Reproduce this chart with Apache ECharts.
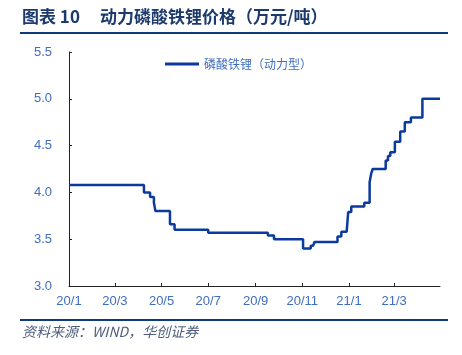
<!DOCTYPE html>
<html>
<head>
<meta charset="utf-8">
<script src="https://cdn.jsdelivr.net/npm/echarts@6/dist/echarts.min.js"></script>
<style>
html,body{margin:0;padding:0;background:#fff;}
#c{width:462px;height:355px;}
</style>
</head>
<body>
<div id="c"></div>
<script>
// change dates (price in effect from that date) and prices (万元/吨)
var changeDates = [
  '2020-01-01','2020-04-08','2020-04-16','2020-04-21','2020-04-23','2020-05-12','2020-05-18',
  '2020-07-01','2020-09-17','2020-09-25','2020-11-02','2020-11-12','2020-11-15','2020-11-17',
  '2020-12-17','2020-12-22','2020-12-29','2020-12-31','2021-01-04','2021-01-21','2021-01-28',
  '2021-01-30','2021-02-01','2021-02-18','2021-02-21','2021-02-24','2021-03-02','2021-03-09',
  '2021-03-15','2021-03-23','2021-04-07','2021-04-30'
];
var prices = [
  4.08, 4.00, 3.95, 3.89, 3.80, 3.66, 3.60,
  3.57, 3.54, 3.50, 3.40, 3.43, 3.45, 3.47,
  3.53, 3.58, 3.58, 3.79, 3.85, 3.89, 4.11,
  4.20, 4.25, 4.34, 4.39, 4.43, 4.54, 4.65,
  4.75, 4.80, 5.00, 5.00
];
var tickMonths = ['2020-01-01','2020-03-01','2020-05-01','2020-07-01','2020-09-01','2020-11-01','2021-01-01','2021-03-01'];
var yTicks = [3.0, 3.5, 4.0, 4.5, 5.0, 5.5];
var seriesName = '磷酸铁锂（动力型）';

function ts(s){ var p = s.split('-'); return new Date(+p[0], +p[1]-1, +p[2]).getTime(); }

var chart = echarts.init(document.getElementById('c'), null, {renderer:'canvas'});
var data = changeDates.map(function(d,i){ return [ts(d), prices[i]]; });
var blue = '#0A3A9C';
var labelBlue = '#3F6DC0';
var navy = '#1C3A6C';

chart.setOption({
  animation:false,
  backgroundColor:'#fff',
  graphic:[
    {type:'text', left:22, top:8, style:{text:'图表 10', font:'bold 17px "Noto Sans CJK SC"', fill:navy}},
    {type:'text', left:100, top:8, style:{text:'动力磷酸铁锂价格（万元/吨）', font:'bold 17px "Noto Sans CJK SC"', fill:navy}},
    {type:'rect', shape:{x:20, y:32, width:428, height:2}, style:{fill:'#0D3B7E'}},
    {type:'rect', shape:{x:20, y:319, width:428, height:2}, style:{fill:'#0D3B7E'}},
    {type:'text', left:22, top:325, style:{text:'资料来源：WIND，华创证券', font:'italic 14px "Noto Sans CJK SC"', fill:'#4E5E7E'}}
  ],
  legend:{
    data:[seriesName], left:160, top:53, itemWidth:34, itemHeight:3, itemGap:3,
    icon:'rect',
    textStyle:{fontFamily:'Noto Sans CJK SC', fontSize:12, color:labelBlue}
  },
  grid:{left:69, top:52, right:22, bottom:69, containLabel:false},
  xAxis:{
    type:'value',
    min:ts(changeDates[0]), max:ts(changeDates[changeDates.length-1]),
    axisLine:{lineStyle:{color:'#222', width:1}},
    axisTick:{inside:true, length:3, customValues:tickMonths.map(ts), lineStyle:{color:'#222'}},
    axisLabel:{
      customValues:tickMonths.map(ts), margin:9, showMaxLabel:true, showMinLabel:true, hideOverlap:false,
      fontFamily:'Liberation Sans', fontSize:13, color:labelBlue,
      formatter:function(v){ var d=new Date(v); return String(d.getFullYear()).slice(2)+'/'+(d.getMonth()+1); }
    },
    splitLine:{show:false}
  },
  yAxis:{
    type:'value', min:yTicks[0], max:yTicks[yTicks.length-1], interval:0.5,
    axisLine:{show:true, lineStyle:{color:'#222', width:1}},
    axisTick:{show:true, inside:true, length:3, lineStyle:{color:'#222'}},
    axisLabel:{margin:17, fontFamily:'Liberation Sans', fontSize:13, color:labelBlue,
      formatter:function(v){ return v.toFixed(1); }},
    splitLine:{show:false}
  },
  series:[{
    name:seriesName, type:'line', step:'end', data:data, showSymbol:false, symbol:'none',
    lineStyle:{color:blue, width:2.5}, itemStyle:{color:blue}
  }]
});
</script>
</body>
</html>
